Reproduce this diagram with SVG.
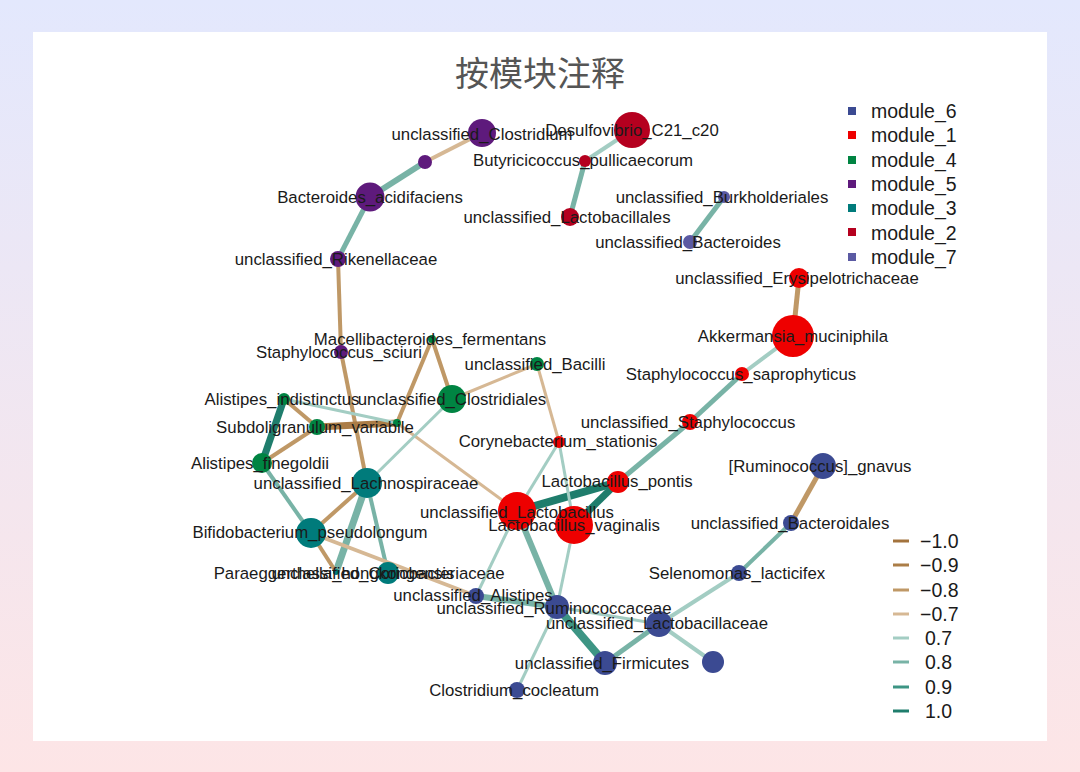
<svg xmlns="http://www.w3.org/2000/svg" width="1080" height="772" viewBox="0 0 1080 772">
<defs>
<linearGradient id="bg" x1="0" y1="0" x2="0" y2="1">
<stop offset="0" stop-color="#e3e8fd"/>
<stop offset="1" stop-color="#fde5e6"/>
</linearGradient>
<style>
.lbl{font-family:"Liberation Sans",Arial,sans-serif;font-size:16.8px;fill:#1a1a1a;text-anchor:middle}
.leg{font-family:"Liberation Sans",Arial,sans-serif;font-size:19.5px;fill:#1a1a1a}
.title{font-family:"Noto Sans CJK SC","Noto Sans CJK JP",sans-serif;font-size:34px;fill:#555555;text-anchor:middle}
line{stroke-linecap:butt}
.n10{stroke:#a3733d}.n09{stroke:#ab7d47}.n08{stroke:#bf9866}.n07{stroke:#d6b894}
.p07{stroke:#a3cdc3}.p08{stroke:#78b3a6}.p09{stroke:#3d9584}.p10{stroke:#1f7d6c}
.m6{fill:#3b4a92}.m1{fill:#ee0000}.m4{fill:#008442}.m5{fill:#5e1a7c}.m3{fill:#007b7b}.m2{fill:#b5001f}.m7{fill:#5b5aa3}
</style>
</defs>
<rect x="0" y="0" width="1080" height="772" fill="url(#bg)"/>
<rect x="33" y="32" width="1014" height="709" fill="#ffffff"/>
<text class="title" x="540" y="86">按模块注释</text>

<g id="connectors">
<line class="n07" stroke-width="4" x1="482" y1="133" x2="425" y2="162"/>
<line class="p08" stroke-width="6" x1="425" y1="162" x2="370" y2="197"/>
<line class="p08" stroke-width="5" x1="370" y1="197" x2="338" y2="259"/>
<line class="n08" stroke-width="4" x1="338" y1="259" x2="341" y2="352"/>
<line class="n08" stroke-width="4" x1="341" y1="352" x2="367" y2="483"/>
<line class="p07" stroke-width="4" x1="632" y1="130" x2="585" y2="161"/>
<line class="p08" stroke-width="5" x1="585" y1="161" x2="570" y2="217"/>
<line class="p08" stroke-width="5" x1="724" y1="197" x2="690" y2="242"/>
<line class="n08" stroke-width="5" x1="799" y1="278" x2="793" y2="336"/>
<line class="p07" stroke-width="4" x1="793" y1="336" x2="742" y2="374"/>
<line class="p08" stroke-width="5" x1="742" y1="374" x2="690" y2="422"/>
<line class="p08" stroke-width="5" x1="690" y1="422" x2="618" y2="482"/>
<line class="p10" stroke-width="8" x1="618" y1="482" x2="517" y2="511"/>
<line class="p10" stroke-width="7" x1="618" y1="482" x2="574" y2="525"/>
<line class="p07" stroke-width="3" x1="559" y1="442" x2="517" y2="511"/>
<line class="p07" stroke-width="3" x1="559" y1="442" x2="574" y2="525"/>
<line class="n07" stroke-width="3" x1="537" y1="364" x2="559" y2="442"/>
<line class="n07" stroke-width="3" x1="537" y1="364" x2="452" y2="399"/>
<line class="n08" stroke-width="4" x1="432" y1="339" x2="452" y2="399"/>
<line class="n08" stroke-width="4" x1="432" y1="339" x2="397" y2="423"/>
<line class="n09" stroke-width="7" x1="397" y1="423" x2="317" y2="427"/>
<line class="p07" stroke-width="3" x1="397" y1="423" x2="284" y2="399"/>
<line class="n07" stroke-width="3" x1="397" y1="423" x2="517" y2="511"/>
<line class="n08" stroke-width="4" x1="284" y1="399" x2="317" y2="427"/>
<line class="p10" stroke-width="7" x1="284" y1="399" x2="262" y2="463"/>
<line class="n08" stroke-width="4" x1="317" y1="427" x2="262" y2="463"/>
<line class="p08" stroke-width="4" x1="262" y1="463" x2="311" y2="533"/>
<line class="p07" stroke-width="3" x1="452" y1="399" x2="367" y2="483"/>
<line class="n08" stroke-width="4" x1="367" y1="483" x2="311" y2="533"/>
<line class="p08" stroke-width="7" x1="367" y1="483" x2="336" y2="572"/>
<line class="p08" stroke-width="4" x1="367" y1="483" x2="388" y2="573"/>
<line class="n08" stroke-width="4" x1="311" y1="533" x2="336" y2="572"/>
<line class="n07" stroke-width="4" x1="311" y1="533" x2="476" y2="596"/>
<line class="p07" stroke-width="3" x1="517" y1="511" x2="476" y2="596"/>
<line class="p08" stroke-width="6" x1="517" y1="511" x2="557" y2="607"/>
<line class="p07" stroke-width="3" x1="574" y1="525" x2="557" y2="607"/>
<line class="p08" stroke-width="6" x1="476" y1="596" x2="557" y2="607"/>
<line class="p09" stroke-width="8" x1="557" y1="607" x2="605" y2="663"/>
<line class="p07" stroke-width="3" x1="557" y1="607" x2="659" y2="624"/>
<line class="p07" stroke-width="3" x1="557" y1="607" x2="517" y2="690"/>
<line class="p08" stroke-width="5" x1="605" y1="663" x2="659" y2="624"/>
<line class="p07" stroke-width="4" x1="659" y1="624" x2="713" y2="662"/>
<line class="p07" stroke-width="4" x1="659" y1="624" x2="739" y2="573"/>
<line class="p08" stroke-width="4" x1="739" y1="573" x2="791" y2="523"/>
<line class="n08" stroke-width="5" x1="791" y1="523" x2="823" y2="466"/>
</g>

<g id="node-unclassified_Clostridium"><circle class="m5" cx="482" cy="133" r="14"/></g>
<g id="node-unlabeled_purple"><circle class="m5" cx="425" cy="162" r="7"/></g>
<g id="node-Bacteroides_acidifaciens"><circle class="m5" cx="370" cy="197" r="14.5"/></g>
<g id="node-unclassified_Rikenellaceae"><circle class="m5" cx="338" cy="259" r="8"/></g>
<g id="node-Staphylococcus_sciuri"><circle class="m5" cx="341" cy="352" r="7"/></g>
<g id="node-Desulfovibrio_C21_c20"><circle class="m2" cx="632" cy="130" r="18"/></g>
<g id="node-Butyricicoccus_pullicaecorum"><circle class="m2" cx="585" cy="161" r="6"/></g>
<g id="node-unclassified_Lactobacillales"><circle class="m2" cx="570" cy="217" r="9"/></g>
<g id="node-unclassified_Burkholderiales"><circle class="m7" cx="724" cy="197" r="6"/></g>
<g id="node-unclassified_Bacteroides"><circle class="m7" cx="690" cy="242" r="7"/></g>
<g id="node-unclassified_Erysipelotrichaceae"><circle class="m1" cx="799" cy="278" r="10"/></g>
<g id="node-Akkermansia_muciniphila"><circle class="m1" cx="793" cy="336" r="21"/></g>
<g id="node-Staphylococcus_saprophyticus"><circle class="m1" cx="742" cy="374" r="7"/></g>
<g id="node-unclassified_Staphylococcus"><circle class="m1" cx="690" cy="422" r="8"/></g>
<g id="node-Corynebacterium_stationis"><circle class="m1" cx="559" cy="442" r="6"/></g>
<g id="node-Lactobacillus_pontis"><circle class="m1" cx="618" cy="482" r="11"/></g>
<g id="node-unclassified_Lactobacillus"><circle class="m1" cx="517" cy="511" r="19"/></g>
<g id="node-Lactobacillus_vaginalis"><circle class="m1" cx="574" cy="525" r="19"/></g>
<g id="node-Macellibacteroides_fermentans"><circle class="m4" cx="432" cy="339" r="4"/></g>
<g id="node-unclassified_Bacilli"><circle class="m4" cx="537" cy="364" r="7"/></g>
<g id="node-unclassified_Clostridiales"><circle class="m4" cx="452" cy="399" r="14"/></g>
<g id="node-Alistipes_indistinctus"><circle class="m4" cx="284" cy="399" r="6"/></g>
<g id="node-Subdoligranulum_variabile"><circle class="m4" cx="317" cy="427" r="8"/></g>
<g id="node-unlabeled_green"><circle class="m4" cx="397" cy="423" r="4"/></g>
<g id="node-Alistipes_finegoldii"><circle class="m4" cx="262" cy="463" r="10"/></g>
<g id="node-unclassified_Lachnospiraceae"><circle class="m3" cx="367" cy="483" r="15"/></g>
<g id="node-Bifidobacterium_pseudolongum"><circle class="m3" cx="311" cy="533" r="15"/></g>
<g id="node-Paraeggerthella_hongkongensis"><circle class="m3" cx="336" cy="572" r="3"/></g>
<g id="node-unclassified_Coriobacteriaceae"><circle class="m3" cx="388" cy="573" r="11"/></g>
<g id="node-unclassified_Alistipes"><circle class="m6" cx="476" cy="596" r="8"/></g>
<g id="node-unclassified_Ruminococcaceae"><circle class="m6" cx="557" cy="607" r="12"/></g>
<g id="node-unclassified_Lactobacillaceae"><circle class="m6" cx="659" cy="624" r="13"/></g>
<g id="node-unclassified_Firmicutes"><circle class="m6" cx="605" cy="663" r="12"/></g>
<g id="node-unlabeled_blue"><circle class="m6" cx="713" cy="662" r="11"/></g>
<g id="node-Clostridium_cocleatum"><circle class="m6" cx="517" cy="690" r="8"/></g>
<g id="node-Selenomonas_lacticifex"><circle class="m6" cx="739" cy="573" r="8"/></g>
<g id="node-unclassified_Bacteroidales"><circle class="m6" cx="791" cy="523" r="8"/></g>
<g id="node-Ruminococcus_gnavus"><circle class="m6" cx="823" cy="466" r="13"/></g>

<g id="labels">
<text class="lbl" x="482" y="140">unclassified_Clostridium</text>
<text class="lbl" x="370" y="203">Bacteroides_acidifaciens</text>
<text class="lbl" x="336" y="265">unclassified_Rikenellaceae</text>
<text class="lbl" x="339" y="358">Staphylococcus_sciuri</text>
<text class="lbl" x="632" y="136">Desulfovibrio_C21_c20</text>
<text class="lbl" x="583" y="166">Butyricicoccus_pullicaecorum</text>
<text class="lbl" x="567" y="223">unclassified_Lactobacillales</text>
<text class="lbl" x="722" y="203">unclassified_Burkholderiales</text>
<text class="lbl" x="688" y="248">unclassified_Bacteroides</text>
<text class="lbl" x="797" y="284">unclassified_Erysipelotrichaceae</text>
<text class="lbl" x="793" y="342">Akkermansia_muciniphila</text>
<text class="lbl" x="741" y="380">Staphylococcus_saprophyticus</text>
<text class="lbl" x="688" y="428">unclassified_Staphylococcus</text>
<text class="lbl" x="558" y="447">Corynebacterium_stationis</text>
<text class="lbl" x="617" y="487">Lactobacillus_pontis</text>
<text class="lbl" x="517" y="518">unclassified_Lactobacillus</text>
<text class="lbl" x="574" y="531">Lactobacillus_vaginalis</text>
<text class="lbl" x="430" y="345">Macellibacteroides_fermentans</text>
<text class="lbl" x="535" y="370">unclassified_Bacilli</text>
<text class="lbl" x="452" y="405">unclassified_Clostridiales</text>
<text class="lbl" x="282" y="405">Alistipes_indistinctus</text>
<text class="lbl" x="315" y="433">Subdoligranulum_variabile</text>
<text class="lbl" x="260" y="469">Alistipes_finegoldii</text>
<text class="lbl" x="366" y="489">unclassified_Lachnospiraceae</text>
<text class="lbl" x="310" y="538">Bifidobacterium_pseudolongum</text>
<text class="lbl" x="334" y="579">Paraeggerthella_hongkongensis</text>
<text class="lbl" x="388" y="579">unclassified_Coriobacteriaceae</text>
<text class="lbl" x="473" y="601">unclassified_Alistipes</text>
<text class="lbl" x="554" y="614">unclassified_Ruminococcaceae</text>
<text class="lbl" x="657" y="629">unclassified_Lactobacillaceae</text>
<text class="lbl" x="602" y="669">unclassified_Firmicutes</text>
<text class="lbl" x="514" y="696">Clostridium_cocleatum</text>
<text class="lbl" x="737" y="579">Selenomonas_lacticifex</text>
<text class="lbl" x="790" y="529">unclassified_Bacteroidales</text>
<text class="lbl" x="820" y="472">[Ruminococcus]_gnavus</text>
</g>

<g id="legend-modules">
<rect class="m6" x="848" y="107" width="8" height="8"/><text class="leg" x="871" y="118">module_6</text>
<rect class="m1" x="848" y="131" width="8" height="8"/><text class="leg" x="871" y="142">module_1</text>
<rect class="m4" x="848" y="156" width="8" height="8"/><text class="leg" x="871" y="167">module_4</text>
<rect class="m5" x="848" y="180" width="8" height="8"/><text class="leg" x="871" y="191">module_5</text>
<rect class="m3" x="848" y="204" width="8" height="8"/><text class="leg" x="871" y="215">module_3</text>
<rect class="m2" x="848" y="228" width="8" height="8"/><text class="leg" x="871" y="240">module_2</text>
<rect class="m7" x="848" y="253" width="8" height="8"/><text class="leg" x="871" y="264">module_7</text>
</g>

<g id="legend-edges">
<line class="n10" stroke-width="3" x1="893" y1="541" x2="909" y2="541"/><text class="leg" x="920" y="548">−1.0</text>
<line class="n09" stroke-width="3" x1="893" y1="565" x2="909" y2="565"/><text class="leg" x="920" y="572">−0.9</text>
<line class="n08" stroke-width="3" x1="893" y1="590" x2="909" y2="590"/><text class="leg" x="920" y="597">−0.8</text>
<line class="n07" stroke-width="3" x1="893" y1="614" x2="909" y2="614"/><text class="leg" x="920" y="621">−0.7</text>
<line class="p07" stroke-width="3" x1="893" y1="638" x2="909" y2="638"/><text class="leg" x="925" y="645">0.7</text>
<line class="p08" stroke-width="3" x1="893" y1="662" x2="909" y2="662"/><text class="leg" x="925" y="669">0.8</text>
<line class="p09" stroke-width="3" x1="893" y1="687" x2="909" y2="687"/><text class="leg" x="925" y="694">0.9</text>
<line class="p10" stroke-width="3" x1="893" y1="711" x2="909" y2="711"/><text class="leg" x="925" y="718">1.0</text>
</g>
</svg>
